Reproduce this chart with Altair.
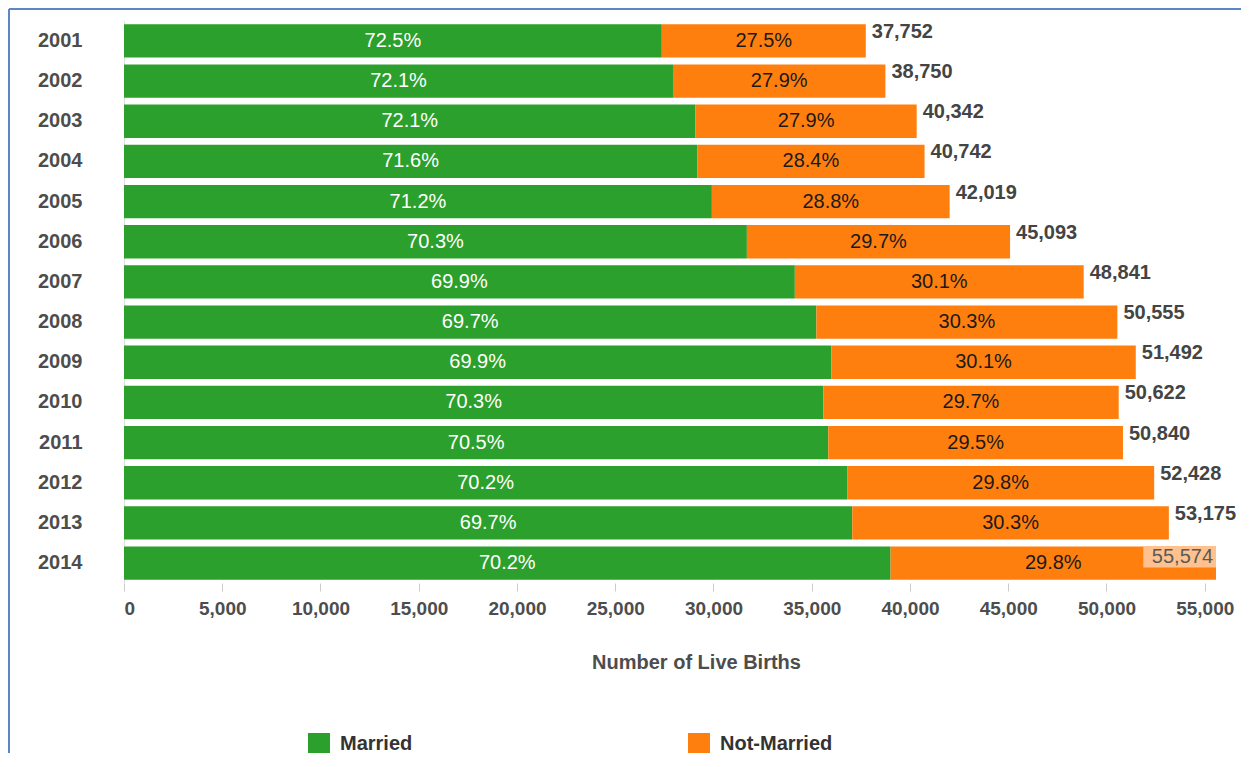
import altair as alt
import pandas as pd

years = ["2001", "2002", "2003", "2004", "2005", "2006", "2007",
         "2008", "2009", "2010", "2011", "2012", "2013", "2014"]
totals = [37752, 38750, 40342, 40742, 42019, 45093, 48841,
          50555, 51492, 50622, 50840, 52428, 53175, 55574]
married_pct = [72.5, 72.1, 72.1, 71.6, 71.2, 70.3, 69.9,
               69.7, 69.9, 70.3, 70.5, 70.2, 69.7, 70.2]
not_married_pct = [27.5, 27.9, 27.9, 28.4, 28.8, 29.7, 30.1,
                   30.3, 30.1, 29.7, 29.5, 29.8, 30.3, 29.8]
x_ticks = [0, 5000, 10000, 15000, 20000, 25000, 30000,
           35000, 40000, 45000, 50000, 55000]

rows = []
for y, t, pm, pn in zip(years, totals, married_pct, not_married_pct):
    m = round(t * pm / 100)
    rows.append({"year": y, "status": "Married", "order": 0, "count": m,
                 "start": 0, "end": m, "pct": f"{pm:.1f}%", "total": t})
    rows.append({"year": y, "status": "Not-Married", "order": 1, "count": t - m,
                 "start": m, "end": t, "pct": f"{pn:.1f}%", "total": t})
df = pd.DataFrame(rows)
tot = pd.DataFrame({"year": years, "total": totals})

FONT = "Liberation Sans"
GREEN = "#2ca02c"
ORANGE = "#ff7f0e"

yenc = alt.Y("year:N", sort=years, title=None,
             scale=alt.Scale(paddingInner=0.17, paddingOuter=0.08),
             axis=alt.Axis(labelFont=FONT, labelFontSize=20, labelFontWeight="bold",
                           labelColor="#4d4d4d", labelPadding=42, ticks=False,
                           domainColor="#dddddd", domainWidth=1))
xscale = alt.Scale(domain=[0, 55574], nice=False, zero=True)

bars = alt.Chart(df).mark_bar().encode(
    x=alt.X("start:Q", scale=xscale, title="Number of Live Births",
            axis=alt.Axis(values=x_ticks, format=",d", grid=False, domain=False,
                          tickColor="#cccccc", tickSize=8, labelPadding=8,
                          labelFont=FONT, labelFontSize=19, labelFontWeight="bold",
                          labelColor="#4d4d4d", titleFont=FONT, titleFontSize=20,
                          titleFontWeight="bold", titleColor="#4d4d4d",
                          titleX=572, titleY=85, titleBaseline="alphabetic")),
    x2="end:Q",
    y=yenc,
    color=alt.Color("status:N",
                    scale=alt.Scale(domain=["Married", "Not-Married"], range=[GREEN, ORANGE]),
                    legend=alt.Legend(title=None, orient="none", direction="horizontal",
                                      legendX=184, legendY=712, symbolType="square",
                                      symbolSize=484, symbolStrokeWidth=0,
                                      labelFont=FONT, labelFontSize=20,
                                      labelFontWeight="bold", labelColor="#333333",
                                      labelOffset=10, columnPadding=275, padding=0)),
)

mid = alt.Chart(df).transform_calculate(
    midx="(datum.start + datum.end) / 2"
).mark_text(font=FONT, fontSize=20).encode(
    x=alt.X("midx:Q", scale=xscale),
    y=alt.Y("year:N", sort=years),
    text="pct:N",
    color=alt.Color("status:N", scale=alt.Scale(domain=["Married", "Not-Married"],
                                                  range=["#ffffff", "#1a1a1a"]),
                    legend=None),
)

tot_lbl = alt.Chart(tot).transform_filter("datum.total < 55000").mark_text(
    font=FONT, fontSize=20, fontWeight="bold", align="left", dx=6, dy=-9, color="#444444"
).encode(
    x=alt.X("total:Q", scale=xscale),
    y=alt.Y("year:N", sort=years),
    text=alt.Text("total:Q", format=",d"),
)

last_bg = alt.Chart(tot).transform_filter("datum.total >= 55000").transform_calculate(
    bx="datum.total - 3700"
).mark_bar(color="#ffc28e", size=21, yOffset=-6).encode(
    x=alt.X("bx:Q", scale=xscale),
    x2="total:Q",
    y=alt.Y("year:N", sort=years),
)

last_lbl = alt.Chart(tot).transform_filter("datum.total >= 55000").mark_text(
    font=FONT, fontSize=20, align="right", dx=-3, dy=-6, color="#5a5a5a"
).encode(
    x=alt.X("total:Q", scale=xscale),
    y=alt.Y("year:N", sort=years),
    text=alt.Text("total:Q", format=",d"),
)

frame_top = alt.Chart(tot).mark_rule(color="#5b87c5", strokeWidth=2).encode(
    x=alt.value(-115), x2=alt.value(1130), y=alt.value(-12)
)
frame_left = alt.Chart(tot).mark_rule(color="#5b87c5", strokeWidth=2).encode(
    x=alt.value(-115), y=alt.value(-12), y2=alt.value(750)
)

chart = alt.layer(bars, mid, tot_lbl, last_bg, last_lbl, frame_top, frame_left).resolve_scale(
    color="independent"
).properties(
    width=1092, height=562,
    autosize=alt.AutoSizeParams(type="none"),
    padding={"left": 116, "top": 13, "right": 25, "bottom": 170},
).configure_view(stroke=None)

chart.save("out.html", embed_options={"renderer": "svg", "actions": False})
